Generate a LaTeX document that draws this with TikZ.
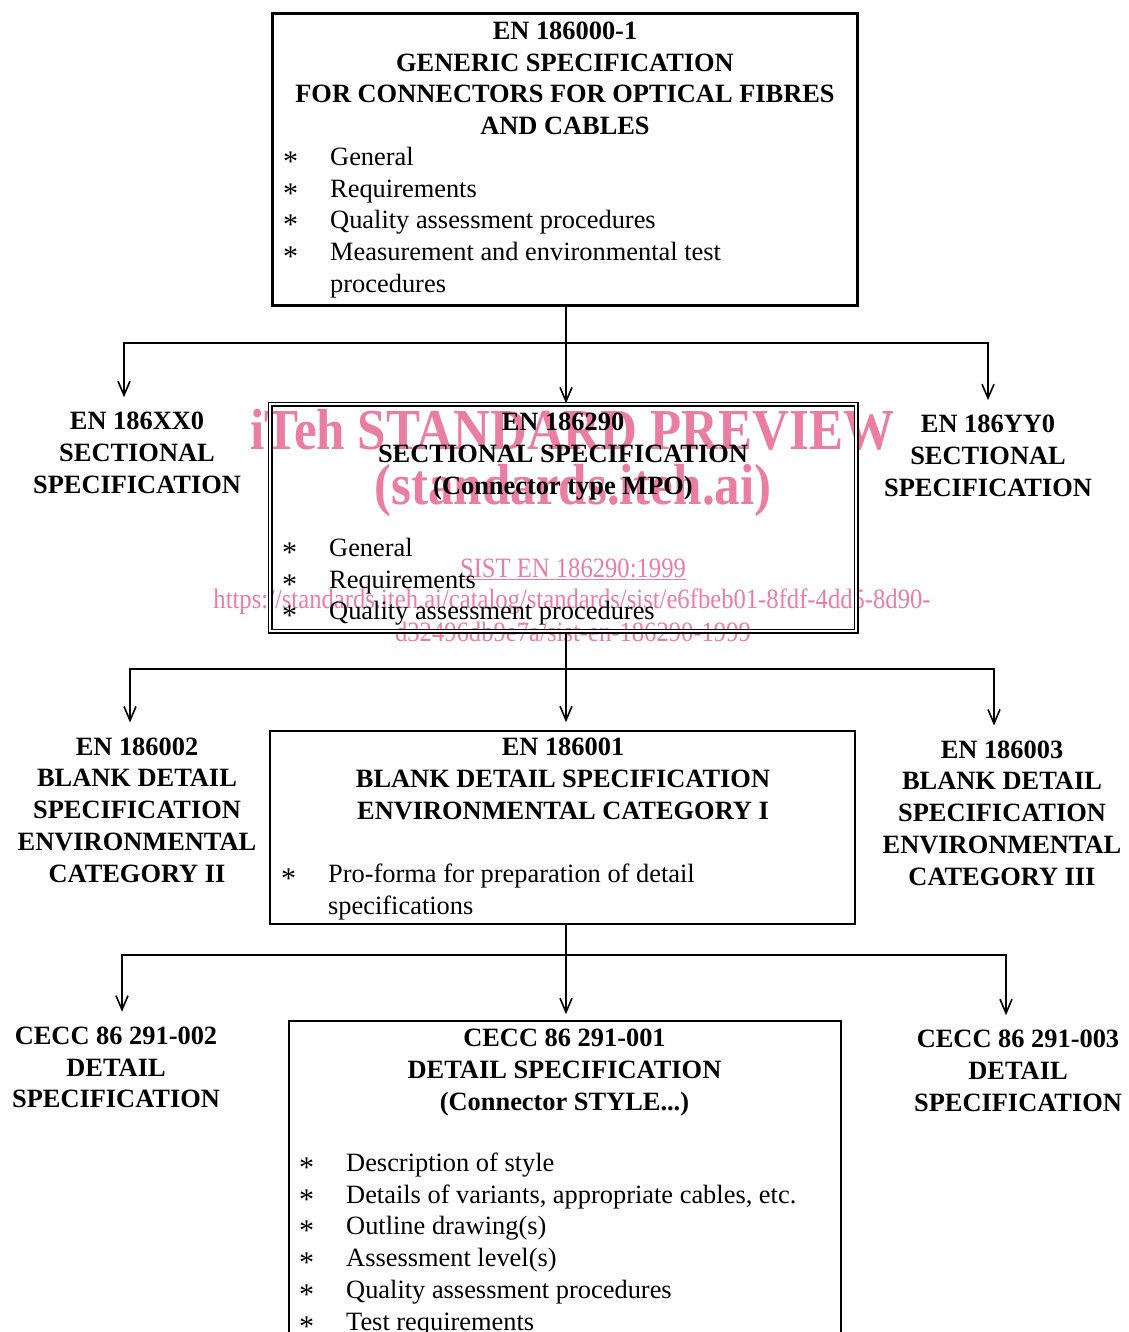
\documentclass[tikz,border=0pt]{standalone}
\usepackage{fontspec}
\setmainfont{Liberation Serif}
\newfontfamily\wmfont[FakeStretch=0.88]{Liberation Serif}
\usetikzlibrary{arrows.meta}
\definecolor{wmpink}{RGB}{234,125,162}
\newcommand{\bul}{\raisebox{-6pt}{\fontsize{30}{30}\selectfont *}}

\begin{document}
\begin{tikzpicture}[x=1pt,y=-1pt,
    every node/.style={inner sep=0pt},
    txt/.style={font=\fontsize{26.4}{31.7}\selectfont},
    head/.style={font=\fontsize{26.4}{31.7}\selectfont\bfseries,align=center},
    side/.style={head,inner ysep=15pt},
    items/.style={txt,anchor=west},
    wm/.style={text=wmpink,font=\wmfont\fontsize{28}{30}\selectfont},
    wmbig/.style={text=wmpink,font=\wmfont\fontsize{58}{60}\selectfont\bfseries},
    conn/.style={line width=1.6pt},
    arr/.style={conn,-{Straight Barb[length=14pt,width=12pt]}}]
      \useasboundingbox (0,0) rectangle (1128,1332);
      \clip (0,0) rectangle (1128,1332);
      % watermark
      \node[wmbig] (wmtitle) at (572.5,430) {iTeh STANDARD PREVIEW};
      \node[wmbig] (wmsite) at (573,491) {(standards.iteh.ai)};
      \node[wm] (wmsist) at (573,569) {\underline{SIST EN 186290:1999}};
      \node[wm] (wmurl) at (572,602) {https://standards.iteh.ai/catalog/standards/sist/e6fbeb01-8fdf-4dd5-8d90-};
      \node[wm] (wmurlb) at (573,632) {d32496db9e7a/sist-en-186290-1999};
      % boxes
      \node[draw,line width=3pt,minimum width=585pt,minimum height=291pt] (gen) at (564.5,159.5) {};
      \node[draw,double,double distance=2.4pt,line width=1.3pt,minimum width=586pt,minimum height=227pt] (sec) at (563,517.5) {};
      \node[draw,line width=1.6pt,minimum width=585pt,minimum height=193pt] (bds) at (562.5,827.5) {};
      \node[draw,line width=1.6pt,minimum width=552pt,minimum height=420pt] (ds) at (565,1231) {};
      % texts in the boxes
      \node[head] (genhead) at (565,78.5) {EN 186000-1\\GENERIC SPECIFICATION\\FOR CONNECTORS FOR OPTICAL FIBRES\\AND CABLES};
      \node[items] (genlist) at (283,222.6) {\begin{tabular}{@{}p{47pt}@{}l@{}}
        \bul & General\\
        \bul & Requirements\\
        \bul & Quality assessment procedures\\
        \bul & Measurement and environmental test\\
             & procedures
      \end{tabular}};
      \node[head] (sechead) at (563,456.5) {EN 186290\\SECTIONAL SPECIFICATION\\(Connector type MPO)};
      \node[items] (seclist) at (282,581.9) {\begin{tabular}{@{}p{47pt}@{}l@{}}
        \bul & General\\
        \bul & Requirements\\
        \bul & Quality assessment procedures
      \end{tabular}};
      \node[head] (bdshead) at (563,779) {EN 186001\\BLANK DETAIL SPECIFICATION\\ENVIRONMENTAL CATEGORY I};
      \node[items] (bdslist) at (281,892) {\begin{tabular}{@{}p{47pt}@{}l@{}}
        \bul & Pro-forma for preparation of detail\\
             & specifications
      \end{tabular}};
      \node[head] (dshead) at (564.5,1072.5) {CECC 86 291-001\\DETAIL SPECIFICATION\\(Connector STYLE...)};
      \node[items] (dslist) at (299,1244.4) {\begin{tabular}{@{}p{47pt}@{}l@{}}
        \bul & Description of style\\
        \bul & Details of variants, appropriate cables, etc.\\
        \bul & Outline drawing(s)\\
        \bul & Assessment level(s)\\
        \bul & Quality assessment procedures\\
        \bul & Test requirements
      \end{tabular}};
      % side texts
      \node[side] (xx0) at (137,453) {EN 186XX0\\SECTIONAL\\SPECIFICATION};
      \node[side] (yy0) at (988,456) {EN 186YY0\\SECTIONAL\\SPECIFICATION};
      \node[side] (cat2) at (137,810) {EN 186002\\BLANK DETAIL\\SPECIFICATION\\ENVIRONMENTAL\\CATEGORY II};
      \node[side] (cat3) at (1002,813) {EN 186003\\BLANK DETAIL\\SPECIFICATION\\ENVIRONMENTAL\\CATEGORY III};
      \node[side] (d002) at (116,1067.5) {CECC 86 291-002\\DETAIL\\SPECIFICATION};
      \node[side] (d003) at (1018,1071) {CECC 86 291-003\\DETAIL\\SPECIFICATION};
      % connectors
      \coordinate (b1) at (566,343);
      \draw[conn] (gen.south -| b1) -- (b1);
      \draw[arr] (b1) -- (b1 |- sec.north);
      \draw[arr] (b1) -| ([xshift=-13pt]xx0.north);
      \draw[arr] (b1) -| (yy0.north);
      \coordinate (b2) at (566,669);
      \draw[conn] (sec.south -| b2) -- (b2);
      \draw[arr,shorten >=8pt] (b2) -- (b2 |- bds.north);
      \draw[arr] (b2) -| ([xshift=-7pt]cat2.north);
      \draw[arr] (b2) -| ([xshift=-8pt]cat3.north);
      \coordinate (b3) at (566,955);
      \draw[conn] (bds.south -| b3) -- (b3);
      \draw[arr,shorten >=6pt] (b3) -- (b3 |- ds.north);
      \draw[arr] (b3) -| ([xshift=6pt]d002.north);
      \draw[arr] (b3) -| ([xshift=-12pt]d003.north);
    \end{tikzpicture}
\end{document}
